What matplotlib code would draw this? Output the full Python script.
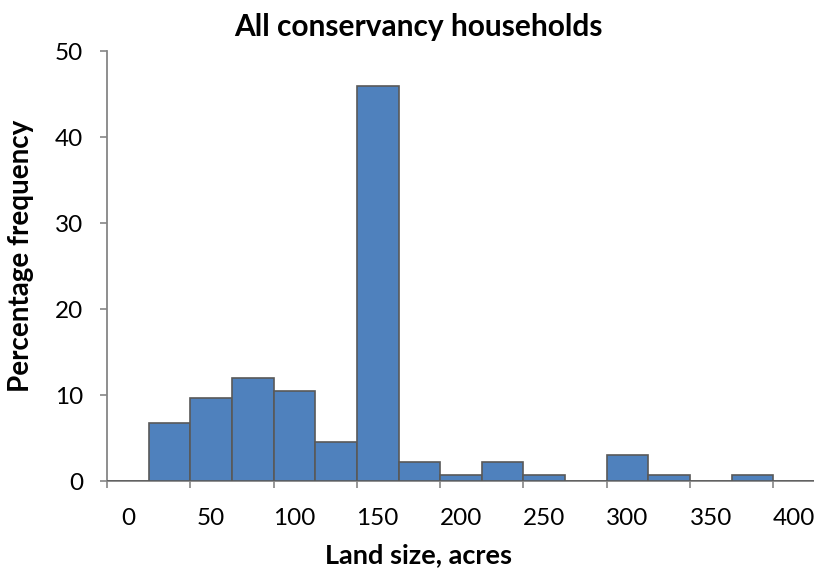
import matplotlib
matplotlib.use("Agg")
import matplotlib.pyplot as plt
import numpy as np

# Land-size classes (acres) and share of households in each class
land_size_classes = [0, 25, 50, 75, 100, 125, 150, 175, 200, 225,
                     250, 275, 300, 325, 350, 375, 400]
percent_households = [0, 6.8, 9.7, 12.0, 10.5, 4.5, 45.9, 2.2, 0.7, 2.2,
                      0.7, 0, 3.0, 0.7, 0, 0.7, 0]
tick_labels = ["0", "50", "100", "150", "200", "250", "300", "350", "400"]

plt.rcParams['font.family'] = ['Lato', 'DejaVu Sans']

W, H = 814, 569
fig = plt.figure(figsize=(W / 100, H / 100), dpi=100)
ax = fig.add_axes([107 / W, (H - 481) / H, 708 / W, 430 / H])

idx = np.arange(len(land_size_classes))
ax.bar(idx, percent_households, width=1.0, color="#4F81BD",
       edgecolor="#595959", linewidth=1.2, zorder=3)

ax.set_xlim(-0.5, len(land_size_classes) - 0.5)
ax.set_ylim(0, 50)

# labels on every other class, tick marks on the class boundaries
ax.set_xticks(idx[::2])
ax.set_xticklabels(tick_labels)
ax.set_xticks(np.arange(-0.5, len(land_size_classes) - 1, 2), minor=True)
ax.tick_params(axis="x", which="major", length=0, pad=19.5, labelsize=17.5)
ax.tick_params(axis="x", which="minor", length=5, width=1.2,
               color="#868686", direction="out")
ax.set_yticks(np.arange(0, 51, 10))
ax.tick_params(axis="y", length=5, width=1.2, color="#868686",
               direction="out", labelsize=17.5, pad=12)

for side in ("top", "right"):
    ax.spines[side].set_visible(False)
for side in ("left", "bottom"):
    ax.spines[side].set_color("#868686")
    ax.spines[side].set_linewidth(1.3)

fig.text(0.514, 1 - 27 / H, "All conservancy households", ha="center",
         va="center", fontsize=21.5, fontweight="bold")
fig.text(0.514, 1 - 555 / H, "Land size, acres", ha="center",
         va="center", fontsize=19.5, fontweight="bold")
fig.text(21 / W, 1 - 256 / H, "Percentage frequency", ha="center",
         va="center", rotation=90, fontsize=20, fontweight="bold")

fig.savefig("out.png", dpi=100)
